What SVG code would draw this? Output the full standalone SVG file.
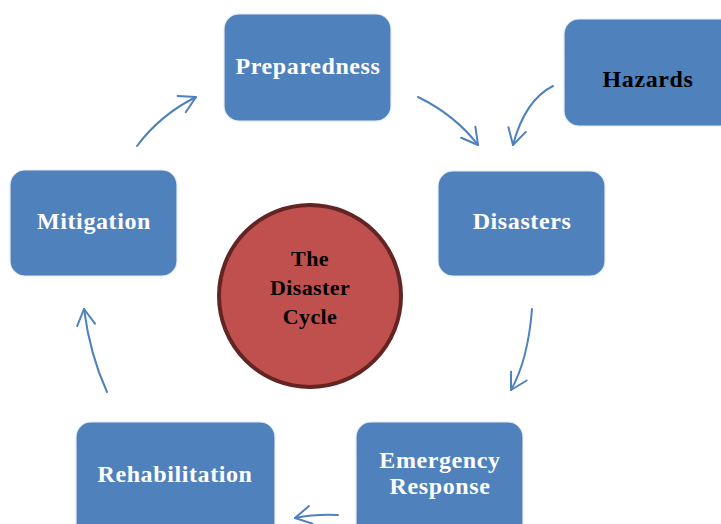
<svg xmlns="http://www.w3.org/2000/svg" width="721" height="524" viewBox="0 0 721 524">
<style>
.box{fill:#4F81BD;stroke:#E4ECF5;stroke-width:1.2}
.lbl{font-family:"Liberation Serif","Times New Roman",serif;font-weight:bold;font-size:24px;letter-spacing:0.6px;fill:#FFFFFF;text-anchor:middle}
.dark{fill:#000000}
.ctr{font-family:"Liberation Serif","Times New Roman",serif;font-weight:bold;font-size:22px;letter-spacing:0.4px;fill:#000000;text-anchor:middle}
.arr{fill:none;stroke:#4F81BD;stroke-width:2;stroke-linecap:round;marker-end:url(#ah)}
</style>
<defs>
<marker id="ah" viewBox="0 0 22 22" refX="20" refY="11" markerWidth="22" markerHeight="22" markerUnits="userSpaceOnUse" orient="auto">
<path d="M4,2 L20,11 L4,20" fill="none" stroke="#4F81BD" stroke-width="2" stroke-linecap="round" stroke-linejoin="round"/>
</marker>
</defs>
<rect width="721" height="524" fill="#FFFFFF"/>
<g id="connectors">
<path class="arr" d="M137,146 Q160,115 196,97"/>
<path class="arr" d="M418,97 Q455,115 478,145"/>
<path class="arr" d="M553,86 Q525,100 513,145"/>
<path class="arr" d="M532,309 Q528,360 511,390"/>
<path class="arr" d="M338,515 Q315,514 295,518"/>
<path class="arr" d="M107,392 Q90,355 84,309"/>
</g>
<g id="preparedness">
<rect class="box" x="224" y="14" width="167" height="107" rx="15"/>
<text class="lbl" x="308" y="74">Preparedness</text>
</g>
<g id="hazards">
<rect class="box" x="564" y="19" width="175" height="107" rx="15"/>
<text class="lbl dark" x="648" y="87">Hazards</text>
</g>
<g id="disasters">
<rect class="box" x="438" y="171" width="167" height="105" rx="15"/>
<text class="lbl" x="522" y="229">Disasters</text>
</g>
<g id="mitigation">
<rect class="box" x="10" y="170" width="167" height="106" rx="15"/>
<text class="lbl" x="94" y="229">Mitigation</text>
</g>
<g id="emergency-response">
<rect class="box" x="356" y="422" width="167" height="120" rx="15"/>
<text class="lbl" x="440" y="468">Emergency</text>
<text class="lbl" x="440" y="494">Response</text>
</g>
<g id="rehabilitation">
<rect class="box" x="76" y="422" width="199" height="120" rx="15"/>
<text class="lbl" x="175" y="482">Rehabilitation</text>
</g>
<g id="disaster-cycle">
<circle cx="310" cy="296" r="91" fill="#C0504D" stroke="#632523" stroke-width="4"/>
<text class="ctr" x="310" y="266">The</text>
<text class="ctr" x="310" y="295">Disaster</text>
<text class="ctr" x="310" y="324">Cycle</text>
</g>
</svg>
